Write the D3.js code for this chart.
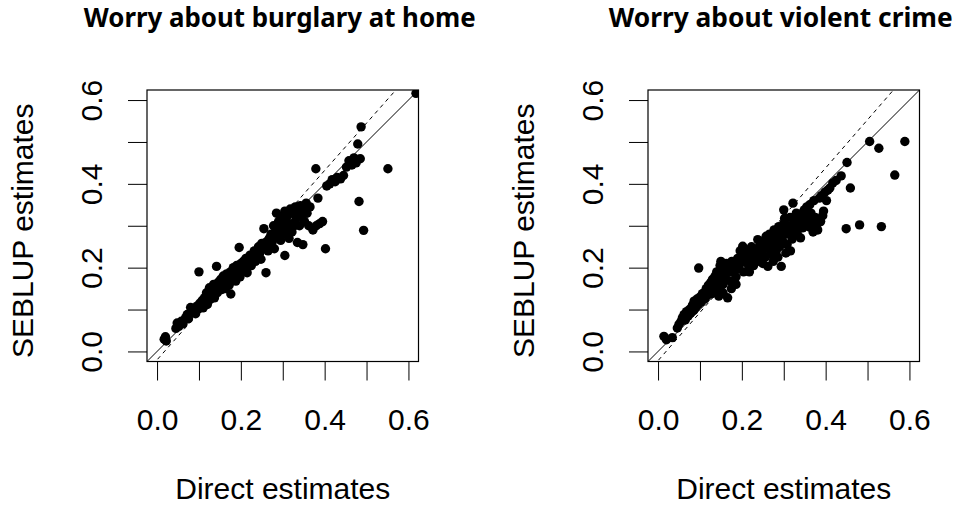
<!DOCTYPE html>
<html>
<head>
<meta charset="utf-8">
<script src="https://cdn.jsdelivr.net/npm/d3@7"></script>
<style>
  body { margin: 0; background: #fff; }
  svg { display: block; }
</style>
</head>
<body>
<svg id="chart" width="956" height="507"></svg>
<script>
// panel titles and axis text
const titles = ['Worry about burglary at home', 'Worry about violent crime'];
const xLabel = 'Direct estimates';
const yLabel = 'SEBLUP estimates';
const tickValues = [0, 0.1, 0.2, 0.3, 0.4, 0.5, 0.6];
const labelledTicks = [0, 0.2, 0.4, 0.6];

// [direct, SEBLUP] per area
const burglaryPoints = [
  [0.017,0.029],[0.020,0.035],[0.022,0.025],[0.045,0.055],[0.048,0.068],[0.052,0.060],[0.058,0.072],
  [0.062,0.066],[0.068,0.080],[0.072,0.088],[0.075,0.078],[0.080,0.105],[0.083,0.092],[0.088,0.098],
  [0.092,0.090],[0.095,0.108],[0.098,0.101],[0.100,0.190],[0.102,0.115],[0.105,0.110],[0.108,0.122],
  [0.110,0.104],[0.113,0.128],[0.116,0.118],[0.118,0.140],[0.120,0.112],[0.122,0.130],[0.125,0.152],
  [0.127,0.124],[0.130,0.145],[0.132,0.136],[0.135,0.160],[0.137,0.128],[0.140,0.150],[0.142,0.203],
  [0.144,0.140],[0.146,0.165],[0.150,0.155],[0.152,0.172],[0.155,0.148],[0.158,0.180],[0.160,0.162],
  [0.163,0.150],[0.166,0.185],[0.168,0.170],[0.172,0.158],[0.175,0.190],[0.176,0.137],[0.178,0.175],
  [0.182,0.200],[0.185,0.182],[0.188,0.168],[0.190,0.205],[0.192,0.190],[0.196,0.248],[0.198,0.178],
  [0.200,0.210],[0.203,0.195],[0.206,0.215],[0.210,0.200],[0.212,0.222],[0.215,0.188],[0.218,0.212],
  [0.222,0.230],[0.225,0.205],[0.228,0.220],[0.232,0.240],[0.235,0.215],[0.238,0.228],[0.242,0.250],
  [0.245,0.235],[0.248,0.220],[0.250,0.258],[0.255,0.293],[0.256,0.245],[0.260,0.188],[0.262,0.262],
  [0.265,0.240],[0.268,0.270],[0.270,0.255],[0.272,0.280],[0.275,0.262],[0.278,0.300],[0.280,0.245],
  [0.282,0.285],[0.285,0.330],[0.287,0.272],[0.290,0.310],[0.292,0.290],[0.295,0.265],[0.298,0.320],
  [0.300,0.300],[0.302,0.280],[0.305,0.229],[0.305,0.335],[0.308,0.310],[0.310,0.292],[0.312,0.325],
  [0.315,0.270],[0.318,0.340],[0.320,0.305],[0.322,0.285],[0.325,0.330],[0.328,0.300],[0.330,0.345],
  [0.332,0.318],[0.335,0.260],[0.338,0.335],[0.340,0.300],[0.342,0.348],[0.345,0.322],[0.348,0.255],
  [0.350,0.340],[0.352,0.310],[0.356,0.354],[0.358,0.330],[0.362,0.300],[0.365,0.345],[0.372,0.290],
  [0.380,0.300],[0.384,0.366],[0.388,0.305],[0.395,0.310],[0.379,0.436],[0.402,0.245],[0.405,0.395],
  [0.412,0.400],[0.418,0.410],[0.425,0.405],[0.430,0.415],[0.438,0.412],[0.445,0.420],[0.452,0.440],
  [0.458,0.455],[0.465,0.445],[0.470,0.462],[0.475,0.450],[0.479,0.495],[0.482,0.358],[0.485,0.460],
  [0.487,0.536],[0.493,0.289],[0.551,0.436],[0.618,0.616]
];

const violentPoints = [
  [0.014,0.036],[0.020,0.028],[0.034,0.033],[0.046,0.056],[0.050,0.065],[0.055,0.072],[0.058,0.080],
  [0.062,0.088],[0.065,0.075],[0.068,0.095],[0.072,0.085],[0.075,0.100],[0.078,0.092],[0.082,0.110],
  [0.085,0.098],[0.086,0.120],[0.090,0.105],[0.093,0.125],[0.096,0.112],[0.097,0.199],[0.100,0.130],
  [0.103,0.118],[0.106,0.138],[0.110,0.140],[0.112,0.126],[0.115,0.150],[0.118,0.135],[0.120,0.158],
  [0.123,0.145],[0.126,0.165],[0.128,0.138],[0.130,0.172],[0.133,0.152],[0.136,0.180],[0.138,0.160],
  [0.140,0.190],[0.142,0.148],[0.145,0.170],[0.148,0.205],[0.150,0.215],[0.152,0.182],[0.155,0.160],
  [0.158,0.195],[0.160,0.175],[0.163,0.210],[0.166,0.128],[0.166,0.188],[0.170,0.200],[0.173,0.168],
  [0.176,0.215],[0.180,0.190],[0.183,0.205],[0.186,0.178],[0.190,0.222],[0.193,0.198],[0.196,0.240],
  [0.198,0.212],[0.202,0.251],[0.204,0.190],[0.207,0.228],[0.210,0.215],[0.213,0.238],[0.216,0.205],
  [0.220,0.232],[0.223,0.250],[0.226,0.220],[0.230,0.245],[0.234,0.230],[0.238,0.267],[0.240,0.240],
  [0.244,0.255],[0.248,0.228],[0.250,0.262],[0.254,0.245],[0.258,0.275],[0.262,0.203],[0.262,0.258],
  [0.266,0.280],[0.270,0.250],[0.273,0.268],[0.277,0.290],[0.280,0.262],[0.284,0.280],[0.288,0.298],
  [0.292,0.270],[0.294,0.203],[0.296,0.288],[0.300,0.338],[0.300,0.305],[0.305,0.235],[0.305,0.280],
  [0.310,0.300],[0.315,0.320],[0.318,0.295],[0.322,0.354],[0.325,0.312],[0.330,0.330],[0.335,0.310],
  [0.340,0.271],[0.345,0.325],[0.349,0.338],[0.355,0.345],[0.361,0.297],[0.362,0.350],[0.368,0.310],
  [0.372,0.360],[0.378,0.300],[0.381,0.290],[0.385,0.366],[0.390,0.372],[0.393,0.324],[0.398,0.380],
  [0.405,0.385],[0.410,0.390],[0.417,0.402],[0.425,0.408],[0.437,0.419],[0.449,0.293],[0.451,0.451],
  [0.459,0.390],[0.481,0.302],[0.505,0.501],[0.527,0.485],[0.533,0.298],[0.565,0.421],[0.589,0.501],
  [0.268,0.232],[0.275,0.215],[0.282,0.240],[0.286,0.225],[0.290,0.250],[0.298,0.262],[0.302,0.318],
  [0.308,0.255],[0.312,0.282],[0.316,0.240],[0.320,0.268],[0.326,0.290],[0.332,0.282],[0.336,0.300],
  [0.345,0.295],[0.352,0.310],[0.358,0.320],[0.365,0.330],[0.370,0.285],[0.375,0.320],[0.388,0.310],
  [0.395,0.335],[0.402,0.360],[0.242,0.215],[0.250,0.210],[0.256,0.225],[0.228,0.205],[0.218,0.190],
  [0.186,0.160],[0.175,0.150],[0.155,0.140],[0.145,0.132]
];

// dashed fitted line: [intercept, slope]
const fitLines = [[-0.020, 1.13], [-0.022, 1.15]];

const domain = [-0.024, 0.624];
const svg = d3.select('#chart');
const bodyFont = '30px "Liberation Sans", Arial, sans-serif';

function drawPanel(i, pts, fit) {
  const left = i === 0 ? 147 : 648, top = 90, size = 271.5;
  const x = d3.scaleLinear().domain(domain).range([left, left + size]);
  const y = d3.scaleLinear().domain(domain).range([top + size, top]);
  const g = svg.append('g');

  g.append('clipPath').attr('id', 'clip' + i)
    .append('rect').attr('x', left).attr('y', top).attr('width', size).attr('height', size);
  const plot = g.append('g').attr('clip-path', 'url(#clip' + i + ')');

  // y = x and fitted line
  plot.append('line')
    .attr('x1', x(domain[0])).attr('y1', y(domain[0]))
    .attr('x2', x(domain[1])).attr('y2', y(domain[1]))
    .attr('stroke', '#000').attr('stroke-width', 1);
  plot.append('line')
    .attr('x1', x(domain[0])).attr('y1', y(fit[0] + fit[1] * domain[0]))
    .attr('x2', x(domain[1])).attr('y2', y(fit[0] + fit[1] * domain[1]))
    .attr('stroke', '#000').attr('stroke-width', 1).attr('stroke-dasharray', '4,4');

  plot.selectAll('circle').data(pts).join('circle')
    .attr('cx', d => x(d[0]))
    .attr('cy', d => y(d[1]))
    .attr('r', 4.7)
    .attr('fill', '#000');

  g.append('rect').attr('x', left).attr('y', top).attr('width', size).attr('height', size)
    .attr('fill', 'none').attr('stroke', '#000').attr('stroke-width', 1.2);

  const fmt = d => labelledTicks.includes(d) ? d3.format('.1f')(d) : '';
  const xa = g.append('g').attr('transform', `translate(0,${top + size})`)
    .call(d3.axisBottom(x).tickValues(tickValues).tickSize(19).tickSizeOuter(0).tickFormat(fmt));
  xa.select('.domain').remove();
  xa.selectAll('.tick text').attr('y', 68).attr('dy', null)
    .style('font', bodyFont).attr('fill', '#000');

  const ya = g.append('g').attr('transform', `translate(${left},0)`)
    .call(d3.axisLeft(y).tickValues(tickValues).tickSize(19).tickSizeOuter(0).tickFormat(fmt));
  ya.select('.domain').remove();
  ya.selectAll('.tick text').attr('x', null).attr('dy', null)
    .attr('text-anchor', 'middle').attr('transform', 'translate(-45,0) rotate(-90)')
    .style('font', bodyFont).attr('fill', '#000');

  const cx = left + size / 2;
  g.append('text').attr('x', cx).attr('y', 499).attr('text-anchor', 'middle')
    .style('font', bodyFont).text(xLabel);
  g.append('text').attr('text-anchor', 'middle')
    .attr('transform', `translate(${left - 114},${top + size / 2 + 5}) rotate(-90)`)
    .style('font', bodyFont).text(yLabel);

  const t = g.append('text').attr('x', cx - 3).attr('y', 27).attr('text-anchor', 'middle')
    .style('font-family', '"Noto Sans", "DejaVu Sans", sans-serif').style('font-weight', 'bold')
    .style('font-size', '20px').text(titles[i]);
  const target = i === 0 ? 392 : 344;
  t.style('font-size', (20 * target / t.node().getComputedTextLength()) + 'px');
}

drawPanel(0, burglaryPoints, fitLines[0]);
drawPanel(1, violentPoints, fitLines[1]);
</script>
</body>
</html>
